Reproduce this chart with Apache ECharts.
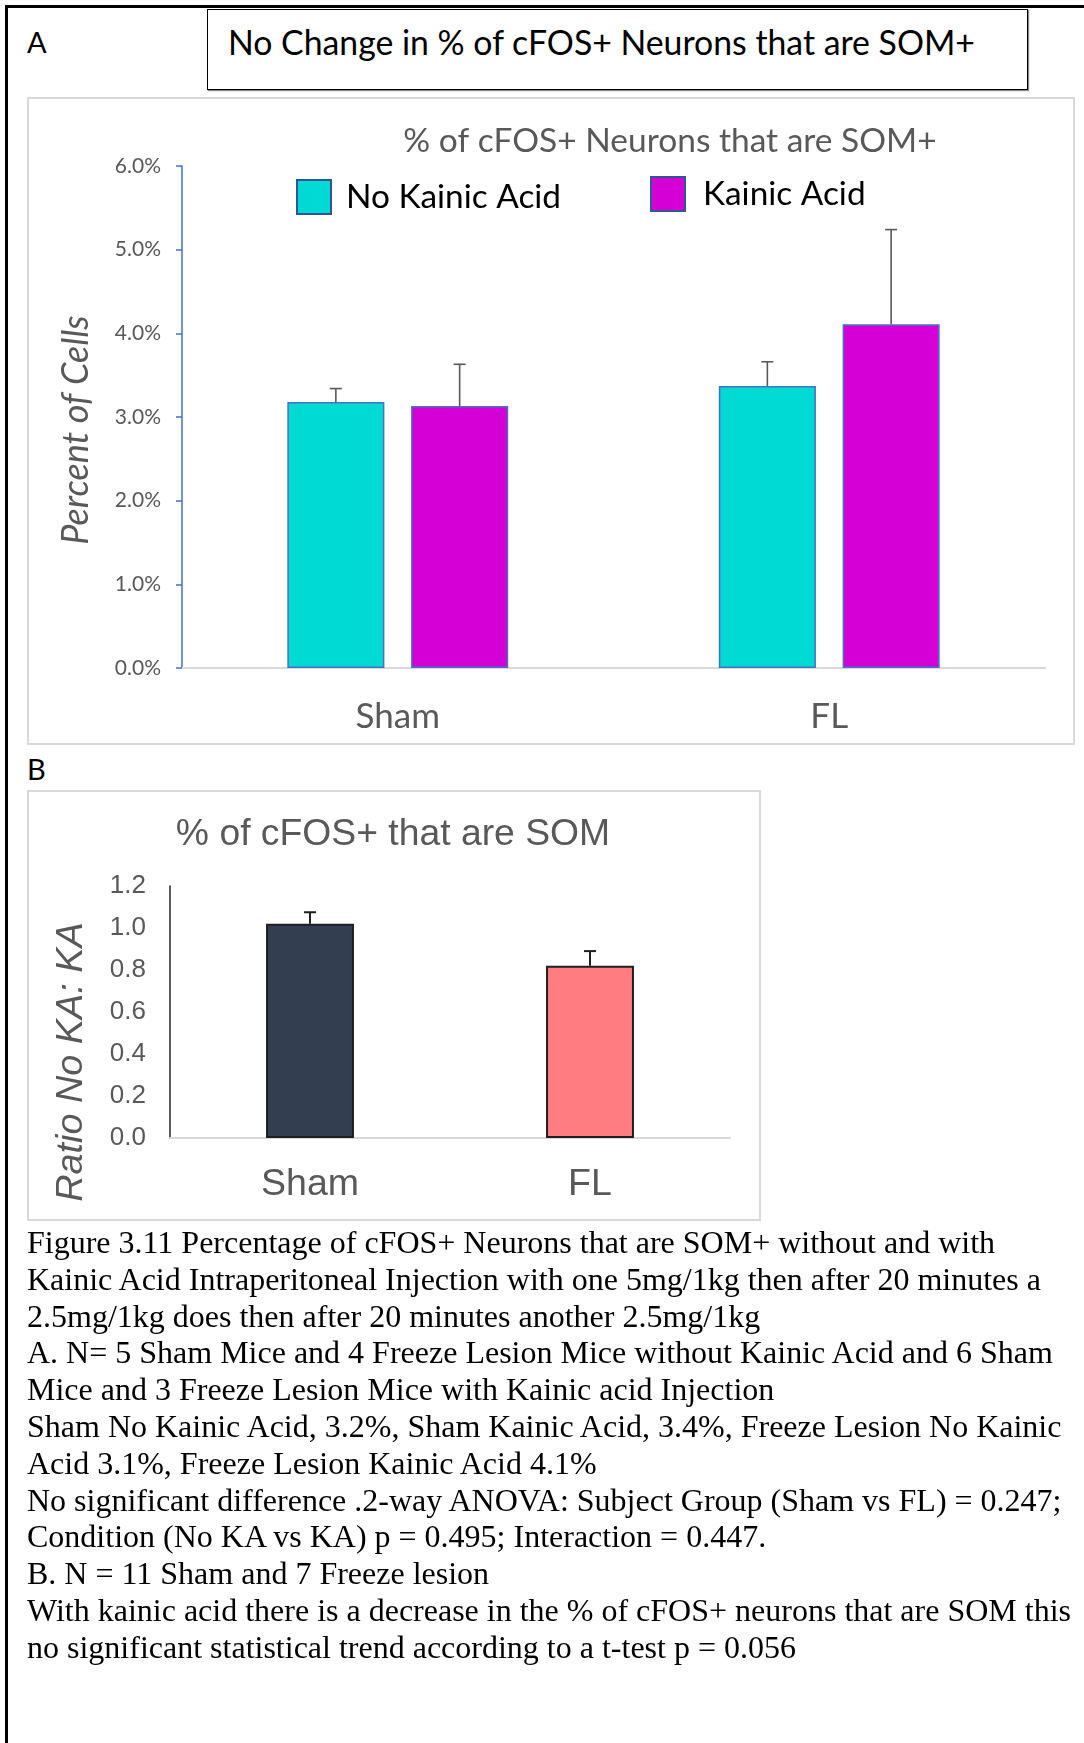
<!DOCTYPE html>
<html>
<head>
<meta charset="utf-8">
<script src="https://cdn.jsdelivr.net/npm/echarts@6/dist/echarts.min.js"></script>
<style>
  html, body { margin: 0; padding: 0; background: #fff; }
  #page { position: relative; width: 1084px; height: 1743px; overflow: hidden; background: #fff; }
  .abs { position: absolute; }
  #outer { left: 5px; top: 5px; width: 1090px; height: 1750px; border-left: 3px solid #000; border-top: 3px solid #000; box-sizing: border-box; }
  #titlebox { left: 207px; top: 9px; width: 821px; height: 81px; border: 1.5px solid #000; box-sizing: border-box; box-shadow: 1px 1px 1px #888; background: #fff; }
  #titletext { left: 228px; top: 42px; transform: translateY(-50%); font-family: Lato, sans-serif; font-size: 33.8px; color: #000; white-space: nowrap; }
  .panel { font-family: Lato, sans-serif; font-size: 29px; color: #000; }
  .frame { border: 2px solid #D9D9D9; box-sizing: border-box; background: #fff; }
  #chart { left: 0; top: 0; width: 1084px; height: 1743px; }
  #caption { left: 27px; top: 1224px; font-family: "Liberation Serif", "Times New Roman", serif; font-size: 32px; line-height: 36.8px; color: #000; white-space: nowrap; }
</style>
</head>
<body>
<div id="page">
  <div id="outer" class="abs"></div>
  <div id="titlebox" class="abs"></div>
  <div id="titletext" class="abs">No Change in % of cFOS+ Neurons that are SOM+</div>
  <div class="abs panel" style="left:27px; top:24px;">A</div>
  <div class="abs panel" style="left:27px; top:751px;">B</div>
  <div class="abs frame" style="left:27px; top:97px; width:1048px; height:648px;"></div>
  <div class="abs frame" style="left:27px; top:790px; width:734px; height:431px;"></div>
  <div id="chart" class="abs"></div>
  <div id="caption" class="abs"></div>
</div>
<script>
// ---------- DATA ----------
const categoriesA = ['Sham', 'FL'];
const seriesNamesA = ['No Kainic Acid', 'Kainic Acid'];
const noKainicAcid = [3.18, 3.37];      // percent
const noKainicAcidErr = [0.16, 0.29];   // upper error
const kainicAcid = [3.13, 4.11];
const kainicAcidErr = [0.50, 1.13];
const yTicksA = { min: 0, max: 6, interval: 1 };

const categoriesB = ['Sham', 'FL'];
const ratioB = [1.02, 0.82];
const ratioBErr = [0.055, 0.07];
const yTicksB = { min: 0, max: 1.2, interval: 0.2 };

const captionLines = [
  'Figure 3.11 Percentage of cFOS+ Neurons that are SOM+ without and with',
  'Kainic Acid Intraperitoneal Injection with one 5mg/1kg then after 20 minutes a',
  '2.5mg/1kg does then after 20 minutes another 2.5mg/1kg',
  'A. N= 5 Sham Mice and 4 Freeze Lesion Mice without Kainic Acid and 6 Sham',
  'Mice and 3 Freeze Lesion Mice with Kainic acid Injection',
  'Sham No Kainic Acid, 3.2%, Sham Kainic Acid, 3.4%, Freeze Lesion No Kainic',
  'Acid 3.1%, Freeze Lesion Kainic Acid 4.1%',
  'No significant difference .2-way ANOVA: Subject Group (Sham vs FL) = 0.247;',
  'Condition (No KA vs KA) p = 0.495; Interaction = 0.447.',
  'B. N = 11 Sham and 7 Freeze lesion',
  'With kainic acid there is a decrease in the % of cFOS+ neurons that are SOM this',
  'no significant statistical trend according to a t-test p = 0.056'
];

// ---------- STYLE ----------
const CYAN = '#00DAD4', MAGENTA = '#D500D5', BAR_BORDER = '#4472C4';
const GRAY_TXT = '#595959';
const BAR_W_A = 0.225, BAR_GAP_A = 0.275;
const BAR_W_B = 0.314;

const cap = document.getElementById('caption');
captionLines.forEach(function (l) {
  const d = document.createElement('div');
  d.textContent = l;
  cap.appendChild(d);
});

function makeErrRender(barRatio, gapRatio, nSeries, color, lw, capHalf) {
  return function (params, api) {
    const ci = api.value(0), v = api.value(1), e = api.value(2), k = api.value(3);
    const catW = api.size([1, 0])[0];
    const bw = catW * barRatio;
    const gap = bw * gapRatio;
    const off = (k - (nSeries - 1) / 2) * (bw + gap);
    const p0 = api.coord([ci, v]);
    const p1 = api.coord([ci, v + e]);
    const x = p0[0] + off;
    return {
      type: 'group',
      children: [
        { type: 'line', shape: { x1: x, y1: p0[1], x2: x, y2: p1[1] }, style: { stroke: color, lineWidth: lw } },
        { type: 'line', shape: { x1: x - capHalf, y1: p1[1], x2: x + capHalf, y2: p1[1] }, style: { stroke: color, lineWidth: lw } }
      ]
    };
  };
}

const errDataA = [];
noKainicAcid.forEach(function (v, i) { errDataA.push([i, v, noKainicAcidErr[i], 0]); });
kainicAcid.forEach(function (v, i) { errDataA.push([i, v, kainicAcidErr[i], 1]); });
const errDataB = ratioB.map(function (v, i) { return [i, v, ratioBErr[i], 0]; });

const chart = echarts.init(document.getElementById('chart'), null, { renderer: 'canvas' });

const option = {
  animation: false,
  backgroundColor: 'transparent',
  grid: [
    { left: 182, top: 166, width: 863, height: 502 },
    { left: 170, top: 886, width: 560, height: 252 }
  ],
  legend: [
    {
      data: [seriesNamesA[0]], left: 296, top: 179, padding: 0, itemWidth: 34, itemHeight: 34, icon: 'rect',
      itemStyle: { borderColor: '#2F5597', borderWidth: 2 },
      textStyle: { fontFamily: 'Lato', fontSize: 33.4, color: '#000', padding: [0, 0, 0, 10] },
      selectedMode: false
    },
    {
      data: [seriesNamesA[1]], left: 650, top: 176, padding: 0, itemWidth: 34, itemHeight: 34, icon: 'rect',
      itemStyle: { borderColor: '#2F5597', borderWidth: 2 },
      textStyle: { fontFamily: 'Lato', fontSize: 33.4, color: '#000', padding: [0, 0, 0, 13] },
      selectedMode: false
    }
  ],
  xAxis: [
    {
      type: 'category', gridIndex: 0, data: categoriesA,
      axisLine: { lineStyle: { color: '#D9D9D9', width: 2 } },
      axisTick: { show: false },
      axisLabel: { color: GRAY_TXT, fontFamily: 'Lato', fontSize: 35, margin: 31 }
    },
    {
      type: 'category', gridIndex: 1, data: categoriesB,
      axisLine: { lineStyle: { color: '#D9D9D9', width: 2 } },
      axisTick: { show: false },
      axisLabel: { color: GRAY_TXT, fontFamily: 'Liberation Sans', fontSize: 37.5, margin: 28 }
    }
  ],
  yAxis: [
    {
      type: 'value', gridIndex: 0, min: yTicksA.min, max: yTicksA.max, interval: yTicksA.interval,
      axisLine: { show: true, lineStyle: { color: '#4472C4', width: 1.5 } },
      axisTick: { show: true, length: 6, lineStyle: { color: '#4472C4', width: 1.5 } },
      splitLine: { show: false },
      axisLabel: { color: GRAY_TXT, fontFamily: 'Lato', fontSize: 21, margin: 21,
        formatter: function (v) { return v.toFixed(1) + '%'; } }
    },
    {
      type: 'value', gridIndex: 1, min: yTicksB.min, max: yTicksB.max, interval: yTicksB.interval,
      axisLine: { show: true, lineStyle: { color: '#262626', width: 1.5 } },
      axisTick: { show: false },
      splitLine: { show: false },
      axisLabel: { color: GRAY_TXT, fontFamily: 'Liberation Sans', fontSize: 26, margin: 24,
        formatter: function (v) { return v.toFixed(1); } }
    }
  ],
  series: [
    {
      name: seriesNamesA[0], type: 'bar', xAxisIndex: 0, yAxisIndex: 0, data: noKainicAcid,
      barWidth: (BAR_W_A * 100) + '%', barGap: (BAR_GAP_A * 100) + '%',
      itemStyle: { color: CYAN, borderColor: BAR_BORDER, borderWidth: 1.5 }
    },
    {
      name: seriesNamesA[1], type: 'bar', xAxisIndex: 0, yAxisIndex: 0, data: kainicAcid,
      barWidth: (BAR_W_A * 100) + '%', barGap: (BAR_GAP_A * 100) + '%',
      itemStyle: { color: MAGENTA, borderColor: BAR_BORDER, borderWidth: 1.5 }
    },
    {
      type: 'custom', xAxisIndex: 0, yAxisIndex: 0, data: errDataA, z: 5,
      encode: { x: 0, y: 1 },
      renderItem: makeErrRender(BAR_W_A, BAR_GAP_A, 2, '#595959', 1.6, 6)
    },
    {
      name: 'Ratio', type: 'bar', xAxisIndex: 1, yAxisIndex: 1,
      data: [
        { value: ratioB[0], itemStyle: { color: '#333F50' } },
        { value: ratioB[1], itemStyle: { color: '#FF7C80' } }
      ],
      barWidth: (BAR_W_B * 100) + '%',
      itemStyle: { borderColor: '#1F1F1F', borderWidth: 2 }
    },
    {
      type: 'custom', xAxisIndex: 1, yAxisIndex: 1, data: errDataB, z: 5,
      encode: { x: 0, y: 1 },
      renderItem: makeErrRender(BAR_W_B, 0, 1, '#1F1F1F', 2, 6)
    }
  ],
  graphic: [
    { type: 'text', x: 670, y: 141, style: { text: '% of cFOS+ Neurons that are SOM+', font: '33.5px Lato', fill: GRAY_TXT, align: 'center', verticalAlign: 'middle' } },
    { type: 'text', x: 76, y: 430, rotation: Math.PI / 2, style: { text: 'Percent of Cells', font: 'italic 36px Lato', fill: GRAY_TXT, align: 'center', verticalAlign: 'middle' } },
    { type: 'text', x: 393, y: 835, style: { text: '% of cFOS+ that are SOM', font: '37.3px "Liberation Sans"', fill: GRAY_TXT, align: 'center', verticalAlign: 'middle' } },
    { type: 'text', x: 71, y: 1062, rotation: Math.PI / 2, style: { text: 'Ratio No KA: KA', font: 'italic 37.8px "Liberation Sans"', fill: GRAY_TXT, align: 'center', verticalAlign: 'middle' } }
  ]
};
chart.setOption(option);
</script>
</body>
</html>
